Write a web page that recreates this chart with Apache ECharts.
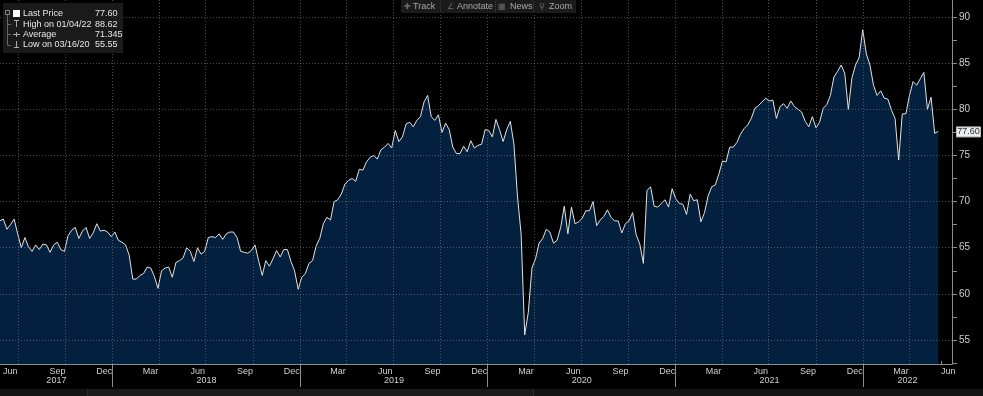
<!DOCTYPE html>
<html><head><meta charset="utf-8">
<script src="https://cdn.jsdelivr.net/npm/echarts@6/dist/echarts.min.js"></script>
<style>html,body{margin:0;padding:0;background:#000;}#c{width:983px;height:396px;}</style>
</head><body><div id="c"></div>
<script>
// Weekly samples (Fridays) starting 26 May 2017
const seriesStart = [2017, 4, 26];
const stepDays = 7;
const prices2017 = [67.9,68.1,67.0,67.5,68.1,66.5,65.0,66.1,65.1,64.6,65.3,64.8,65.4,65.3,64.5,65.3,
  65.6,64.8,64.6,66.3,66.9,67.2,66.0,66.8,67.2,66.0,66.6,67.6,66.8,66.9,66.7,66.2];
const prices2018 = [66.7,65.8,65.6,65.3,64.2,61.6,61.6,62.0,62.2,62.9,62.8,61.9,60.6,62.5,62.8,62.9,
  61.8,63.4,63.6,63.9,65.0,64.6,63.5,65.0,64.3,64.6,66.1,66.2,66.1,66.5,65.9,66.5,66.7,66.7,66.1,64.6,
  64.5,64.4,64.7,65.3,63.6,62.0,63.6,63.0,63.8,64.7,64.0,64.8,64.8,63.5,62.5,60.5];
const prices2019 = [61.8,62.2,63.3,63.6,65.2,66.0,67.6,68.3,68.0,70.0,70.2,70.8,71.9,72.3,72.5,72.2,
  73.5,73.4,74.3,74.8,75.0,74.6,75.6,75.9,76.3,75.8,77.7,76.5,77.0,78.4,78.6,78.1,78.8,79.2,80.8,81.5,
  79.2,78.8,79.4,77.5,78.5,77.8,75.9,75.2,75.2,76.0,75.4,76.6,75.8,76.1,76.2,77.8];
const prices2020 = [77.7,77.0,78.9,77.8,76.5,77.8,78.7,76.2,70.5,66.5,55.55,58.0,62.8,63.8,65.5,66.0,
  67.0,66.7,65.5,65.8,67.2,69.5,66.5,69.4,67.6,67.8,68.2,69.0,69.0,70.0,67.4,68.0,68.4,69.1,68.3,67.9,
  67.9,66.6,67.6,67.9,68.8,66.4,65.4,63.3,71.2,71.6,69.5,69.4,69.8,70.2,69.4,71.4];
const prices2021 = [70.3,69.8,69.7,68.6,70.8,70.1,70.2,67.8,68.8,70.6,71.6,71.8,73.0,74.4,74.3,75.9,
  75.9,76.4,77.3,77.9,78.3,79.0,80.1,80.4,80.8,81.2,80.9,81.0,79.0,80.3,80.6,80.1,80.9,80.3,80.0,79.7,
  78.7,78.1,79.2,78.0,78.6,80.1,80.5,81.5,83.5,84.1,84.8,83.9,80.0,83.4,84.8,85.6,88.62];
const prices2022 = [86.0,84.8,82.6,81.5,82.0,81.2,81.1,79.9,79.0,74.5,79.5,79.5,81.5,83.0,82.6,83.3,
  84.0,80.0,81.3,77.4,77.6];

const yLabelValues = [55,60,65,70,75,80,85,90];
const yTickValues = [52.5,55,57.5,60,62.5,65,67.5,70,72.5,75,77.5,80,82.5,85,87.5,90];
const monthNames = ['Jan','Feb','Mar','Apr','May','Jun','Jul','Aug','Sep','Oct','Nov','Dec'];
const labelledMonths = [2,5,8,11];
const gridMonths = [0,3,6,9];
const years = [2017,2018,2019,2020,2021,2022];
const legendLabels = ['Last Price','High on 01/04/22','Average','Low on 03/16/20'];
const legendValues = ['77.60','88.62','71.345','55.55'];
const lastPriceText = '77.60';
const toolbarItems = ['Track','Annotate','News','Zoom'];
const toolbarIcons = ['\u271A','\u2220','\u25A6','\u26B2'];

const prices = [].concat(prices2017,prices2018,prices2019,prices2020,prices2021,prices2022);
const DAY = 86400000;
const t0 = Date.UTC(seriesStart[0], seriesStart[1], seriesStart[2]);
const data = prices.map((v,i)=>[t0 + i*stepDays*DAY, v]);
const lastPrice = prices[prices.length-1];

const xMin = Date.UTC(2017,4,26,14);
const xMax = Date.UTC(2022,5,22,19);
const inRange = t => t >= xMin && t <= xMax;

const monthStarts = [], labelPos = [], gridLinesX = [], yearStarts = [], yearLabelPos = [];
years.forEach(y=>{
  for(let m=0;m<12;m++){
    const s = Date.UTC(y,m,1);
    if(inRange(s)) monthStarts.push(s);
    if(labelledMonths.includes(m)){ const c = Date.UTC(y,m,15,12); if(inRange(c)) labelPos.push(c); }
    if(gridMonths.includes(m) && inRange(s)) gridLinesX.push(s);
  }
  const ys = Date.UTC(y,0,1), ye = Date.UTC(y+1,0,1);
  if(inRange(ys)) yearStarts.push(ys);
  yearLabelPos.push((Math.max(ys,xMin)+Math.min(ye,xMax))/2);
});

const FONT = '"Liberation Sans", Arial, sans-serif';
const axisCol = '#8c8c8c';
const labelCol = '#cfcfcf';

const chart = echarts.init(document.getElementById('c'), null, {renderer:'canvas'});
chart.setOption({
  backgroundColor:'#000',
  animation:false,
  grid:{left:0,right:31,top:0,bottom:32,containLabel:false},
  xAxis:[{
    type:'value', min:xMin, max:xMax, position:'bottom',
    axisLine:{show:true,lineStyle:{color:axisCol,width:1}},
    axisTick:{show:true,customValues:monthStarts,length:3,inside:true,lineStyle:{color:axisCol}},
    axisLabel:{customValues:labelPos,formatter:v=>monthNames[new Date(v).getUTCMonth()],
      color:labelCol,fontSize:9,fontFamily:FONT,margin:3},
    splitLine:{show:false}
  },{
    type:'value', min:xMin, max:xMax, position:'bottom',
    axisLine:{show:false},
    axisTick:{show:true,customValues:yearStarts,length:23,inside:false,lineStyle:{color:axisCol}},
    axisLabel:{customValues:yearLabelPos,formatter:v=>String(new Date(v).getUTCFullYear()),
      color:labelCol,fontSize:9,fontFamily:FONT,margin:12},
    splitLine:{show:false}
  }],
  yAxis:{
    type:'value', min:52.4, max:91.84, position:'right',
    axisLine:{show:true,lineStyle:{color:axisCol}},
    axisTick:{show:true,customValues:yTickValues,length:5,lineStyle:{color:axisCol}},
    axisLabel:{customValues:yLabelValues,color:labelCol,fontSize:10,fontFamily:FONT,margin:7},
    splitLine:{show:false}
  },
  series:[{
    type:'line', data:data, xAxisIndex:0, yAxisIndex:0,
    showSymbol:false, symbol:'none',
    lineStyle:{color:'#e2e2e2',width:1},
    areaStyle:{color:'#03203f',opacity:1,origin:'start'},
    markLine:{
      silent:true, symbol:['none','none'], animation:false,
      label:{show:false},
      lineStyle:{type:[1,2],color:'rgba(150,150,150,0.5)',width:1},
      emphasis:{disabled:true},
      data:[].concat(yLabelValues.map(v=>({yAxis:v})), gridLinesX.map(t=>({xAxis:t})))
    }
  }]
});

// Overlays: legend box, toolbar, footer strip, last price tag
const py = chart.convertToPixel({yAxisIndex:0}, lastPrice);
const g = [];
const txt = (x,y,s,fill,size,align)=>({type:'text',x:x,y:y,z:100,silent:true,
  style:{text:s,fill:fill,fontSize:size,fontFamily:FONT,verticalAlign:'middle',align:align||'left'}});
const ln = (x1,y1,x2,y2,c)=>({type:'line',z:100,silent:true,shape:{x1:x1,y1:y1,x2:x2,y2:y2},style:{stroke:c,lineWidth:1}});
const rc = (x,y,w,h,f,s)=>({type:'rect',z:99,silent:true,shape:{x:x,y:y,width:w,height:h},style:{fill:f,stroke:s||null}});

// legend
g.push(rc(3,3,120,50,'rgba(28,28,28,0.92)'));
g.push(rc(5.5,10.5,4,4,null,'#888'));
g.push(ln(7.5,15,7.5,45,'#666'));
[24,34,45].forEach(y=>g.push(ln(7.5,y+0.5,11,y+0.5,'#666')));
g.push(rc(13,10,7,7,'#ffffff'));
g.push(ln(14,20.5,19,20.5,'#aaa')); g.push(ln(16.5,20.5,16.5,27,'#aaa'));
g.push(ln(13,34.5,20,34.5,'#aaa')); g.push(ln(16.5,32,16.5,37,'#aaa'));
g.push(ln(16.5,41,16.5,47.5,'#aaa')); g.push(ln(14,47.5,19,47.5,'#aaa'));
legendLabels.forEach((s,i)=>{
  const y = 14 + i*10.2;
  g.push(txt(23,y,s,'#e6e6e6',9));
  g.push(txt(95,y,legendValues[i],'#e6e6e6',9));
});

// toolbar
g.push(rc(401,0,175,13,'#1b1b1b'));
const tbIconX = [407,450,502,542];
const tbTextX = [413,457,510,549];
const tbSepX = [440.5,495.5,533.5];
toolbarItems.forEach((s,i)=>{
  g.push(txt(tbIconX[i],6.5,toolbarIcons[i],'#6f6f6f',8,'center'));
  g.push(txt(tbTextX[i],6.5,s,'#a9a9a9',9));
});
tbSepX.forEach(x=>g.push(ln(x,1,x,12,'#2e2e2e')));

// footer strip
g.push(rc(0,389,983,7,'#141414'));
g.push(rc(87,389,446,7,'#1a1a1a'));
g.push(ln(87.5,389,87.5,396,'#2c2c2c'));
g.push(ln(533.5,389,533.5,396,'#2c2c2c'));

// last price tag
g.push(rc(956.5,py-4.5,24,10,'#ececec','#bdbdbd'));
g.push(txt(968.5,py+0.5,lastPriceText,'#1d2b3a',9,'center'));

chart.setOption({graphic:g});
</script></body></html>
